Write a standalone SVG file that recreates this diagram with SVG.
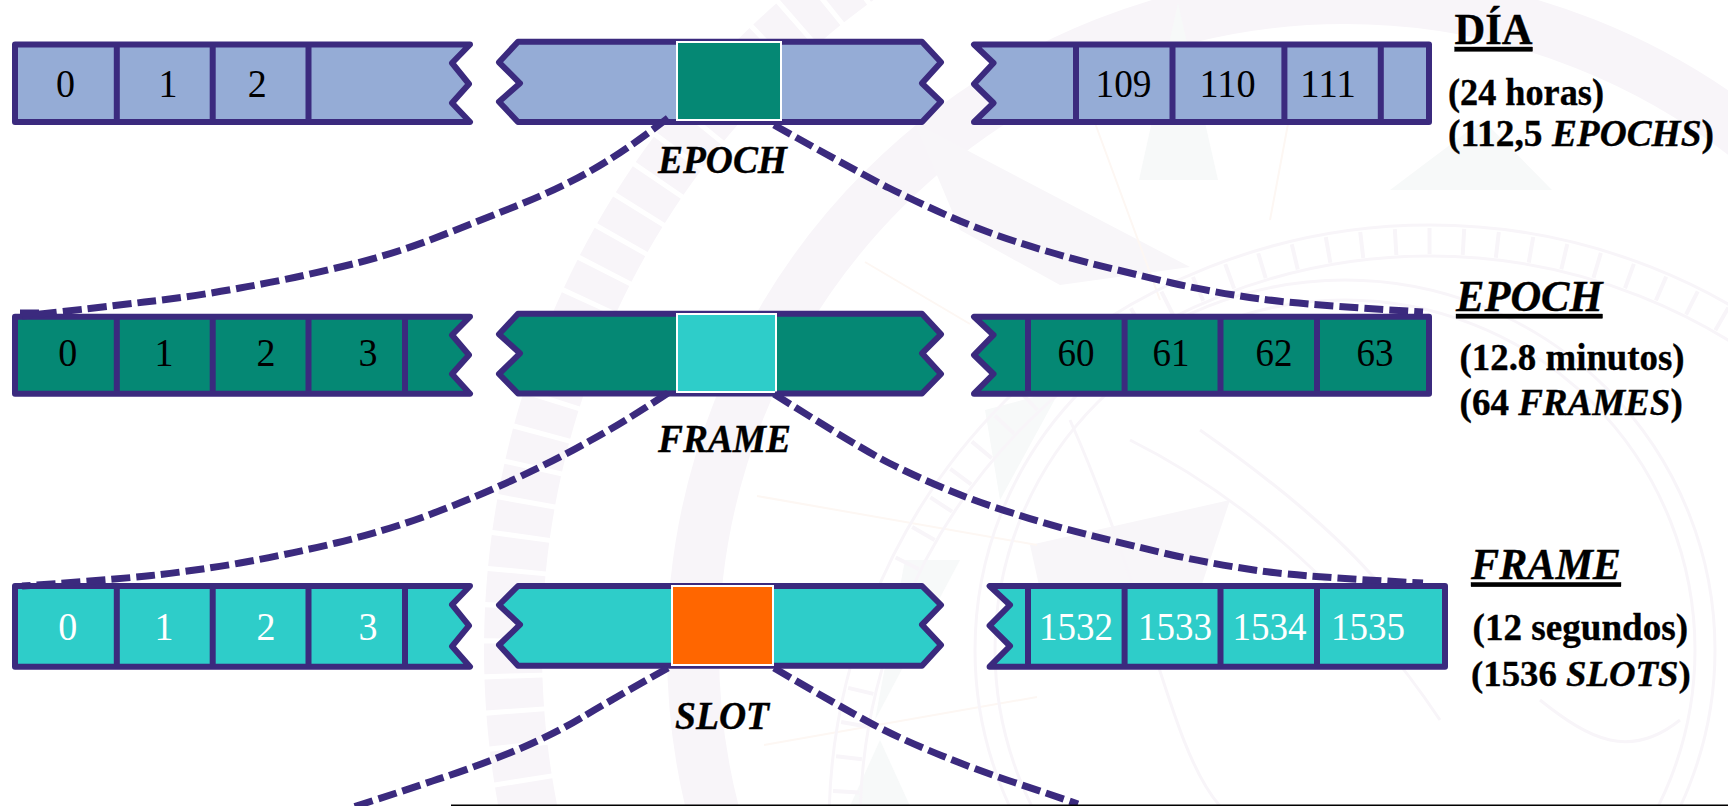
<svg xmlns="http://www.w3.org/2000/svg" width="1728" height="806" viewBox="0 0 1728 806">
<defs><style>
.o{stroke:#3b2a7e;stroke-width:6;stroke-linejoin:round;fill:none}
.d{stroke:#3b2a7e;stroke-width:7;fill:none;stroke-dasharray:19 6}
.t{font-family:"Liberation Serif","Times New Roman",serif;font-size:41px;text-anchor:middle;fill:#000}
.w{fill:#fff}
.l{font-family:"Liberation Serif","Times New Roman",serif;font-weight:bold;fill:#000;stroke:#000;stroke-width:.35}
.i{font-style:italic}
.s{stroke:#fff;stroke-width:2}
.a{fill:#95acd6}.b{fill:#058874}.c{fill:#2ecdc9}
.wl{fill:none;stroke:#f8f5f9}
.wg{fill:#f7f9f9}
.wv{fill:#f8f6f9}
.wp{fill:none;stroke:#fdf7f3;stroke-width:2}
</style></defs>
<rect width="1728" height="806" fill="#fff"/>
<g id="watermark">
<circle class="wl" cx="1345" cy="650" r="832" stroke-width="58" stroke-dasharray="30 5"/>
<circle class="wl" cx="1345" cy="650" r="652" stroke-width="52"/>
<polygon class="wv" points="915,123 1190,267 1060,285 960,230"/>
<polygon class="wg" points="1178,3 1139,180 1218,180"/>
<polygon class="wg" points="1483,120 1390,190 1552,190"/>
<polygon class="wg" points="880,740 850,806 910,806"/>
<polygon class="wg" points="905,560 875,720 960,560"/>
<polygon class="wg" points="985,410 1060,390 1000,500"/>
<polygon class="wv" points="1030,545 1230,500 1190,620 1040,590"/>
<path class="wp" d="M757 496L1037 545M865 262L970 324M764 745L1037 697M1095 123L1160 300M1300 60L1270 220"/>
<circle class="wl" cx="1430" cy="826" r="601" stroke-width="3"/>
<circle class="wl" cx="1430" cy="826" r="570" stroke-width="3"/>
<circle class="wl" cx="1430" cy="826" r="585" stroke-width="26" stroke-dasharray="4 30"/>
<circle class="wl" cx="1345" cy="650" r="370" stroke-width="3"/>
<circle class="wl" cx="1345" cy="650" r="350" stroke-width="3"/>
<path class="wl" stroke-width="3" d="M1130 440C1250 500 1360 600 1440 720M1200 430C1300 500 1380 570 1420 640M1070 420C1150 600 1170 750 1220 806M1540 700C1590 740 1630 760 1680 720"/>
</g>
<g id="row1-left"><path class="a" d="M15 44.5H470L452 63L469 84L452 103L470 122H15Z"/><path class="o" d="M15 44.5H470L452 63L469 84L452 103L470 122H15ZM116.8 44.5V122M212.7 44.5V122M308.5 44.5V122"/><text class="t" x="65.6" y="97" textLength="19" lengthAdjust="spacingAndGlyphs">0</text><text class="t" x="168" y="97" textLength="19" lengthAdjust="spacingAndGlyphs">1</text><text class="t" x="257.3" y="97" textLength="19" lengthAdjust="spacingAndGlyphs">2</text></g>
<g id="row1-mid"><path class="a" d="M518 41.7H922L941 62.3L922 83.3L941 101.7L922 122H518L499 101.7L520 83.3L499 62.3Z"/><path class="o" d="M518 41.7H922L941 62.3L922 83.3L941 101.7L922 122H518L499 101.7L520 83.3L499 62.3Z"/><rect class="b s" x="677" y="42" width="104" height="78"/></g>
<g id="row1-right"><path class="a" d="M974 44.5H1429V122H974L993.5 103L974 84L993.5 63Z"/><path class="o" d="M974 44.5H1429V122H974L993.5 103L974 84L993.5 63ZM1076 44.5V122M1172.5 44.5V122M1284.4 44.5V122M1380.8 44.5V122"/><text class="t" x="1123.5" y="97" textLength="56" lengthAdjust="spacingAndGlyphs">109</text><text class="t" x="1227.6" y="97" textLength="56" lengthAdjust="spacingAndGlyphs">110</text><text class="t" x="1328" y="97" textLength="56" lengthAdjust="spacingAndGlyphs">111</text></g>
<g id="row2-left"><path class="b" d="M15 316.7H470L452 335L469 355L452 374L470 393.7H15Z"/><path class="o" d="M15 316.7H470L452 335L469 355L452 374L470 393.7H15ZM116.8 316.7V393.7M212.7 316.7V393.7M308.5 316.7V393.7M405 316.7V393.7"/><text class="t" x="67.8" y="365.5" textLength="19" lengthAdjust="spacingAndGlyphs">0</text><text class="t" x="164" y="365.5" textLength="19" lengthAdjust="spacingAndGlyphs">1</text><text class="t" x="266" y="365.5" textLength="19" lengthAdjust="spacingAndGlyphs">2</text><text class="t" x="368" y="365.5" textLength="19" lengthAdjust="spacingAndGlyphs">3</text></g>
<g id="row2-mid"><path class="b" d="M518 313.8H922L941 334.3L922 353.3L941 374L922 393.5H518L499 374L520 353.3L499 334.3Z"/><path class="o" d="M518 313.8H922L941 334.3L922 353.3L941 374L922 393.5H518L499 374L520 353.3L499 334.3Z"/><rect class="c s" x="677" y="314" width="99" height="78"/></g>
<g id="row2-right"><path class="b" d="M974 316.7H1429V393.7H974L993.5 374L974 355L993.5 335Z"/><path class="o" d="M974 316.7H1429V393.7H974L993.5 374L974 355L993.5 335ZM1028 316.7V393.7M1124.6 316.7V393.7M1220.5 316.7V393.7M1317 316.7V393.7"/><text class="t" x="1076" y="365.5" textLength="37" lengthAdjust="spacingAndGlyphs">60</text><text class="t" x="1171" y="365.5" textLength="37" lengthAdjust="spacingAndGlyphs">61</text><text class="t" x="1274" y="365.5" textLength="37" lengthAdjust="spacingAndGlyphs">62</text><text class="t" x="1375" y="365.5" textLength="37" lengthAdjust="spacingAndGlyphs">63</text></g>
<g id="row3-left"><path class="c" d="M15 586H470L452 604.7L469 625.7L452 646.3L470 666.7H15Z"/><path class="o" d="M15 586H470L452 604.7L469 625.7L452 646.3L470 666.7H15ZM116.8 586V666.7M212.7 586V666.7M308.5 586V666.7M405 586V666.7"/><text class="t w" x="67.8" y="639.5" textLength="19" lengthAdjust="spacingAndGlyphs">0</text><text class="t w" x="164" y="639.5" textLength="19" lengthAdjust="spacingAndGlyphs">1</text><text class="t w" x="266" y="639.5" textLength="19" lengthAdjust="spacingAndGlyphs">2</text><text class="t w" x="368" y="639.5" textLength="19" lengthAdjust="spacingAndGlyphs">3</text></g>
<g id="row3-mid"><path class="c" d="M518 586H922L941 605L922 624.7L941 645L922 665.7H518L499 645L520 624.7L499 605Z"/><path class="o" d="M518 586H922L941 605L922 624.7L941 645L922 665.7H518L499 645L520 624.7L499 605Z"/><rect class="s" fill="#ff6600" x="672" y="586" width="101" height="79"/></g>
<g id="row3-right"><path class="c" d="M989.6 586H1445V666.7H989.6L1010 646L989.6 625.7L1010 605Z"/><path class="o" d="M989.6 586H1445V666.7H989.6L1010 646L989.6 625.7L1010 605ZM1028 586V666.7M1124.6 586V666.7M1220.5 586V666.7M1317 586V666.7"/><text class="t w" x="1076" y="639.5" textLength="74" lengthAdjust="spacingAndGlyphs">1532</text><text class="t w" x="1175" y="639.5" textLength="74" lengthAdjust="spacingAndGlyphs">1533</text><text class="t w" x="1269.5" y="639.5" textLength="74" lengthAdjust="spacingAndGlyphs">1534</text><text class="t w" x="1368" y="639.5" textLength="74" lengthAdjust="spacingAndGlyphs">1535</text></g>
<g id="connectors">
<path class="d" d="M668 118Q622.6 153 589.5 171.5Q556.5 190 515 206.5Q474 223 430 240Q385.7 256.7 336 268Q286.5 280 240 288Q193 296.7 144.5 302Q96 308 22 316"/>
<path class="d" d="M20 313H40" stroke-dasharray="none"/>
<path class="d" d="M774 125Q859.5 173 889 188Q919 203 949.5 216.5Q980 230 1015.5 241.5Q1051 253 1089.5 263Q1128 272.7 1172 283Q1216.6 293 1261 299Q1305 305 1423 312"/>
<path class="d" d="M668 393Q622.6 423 589.5 441Q556.5 459.7 515 479Q474 498 430 514.5Q385.7 531 336 543Q286.5 554.7 240 563Q193 571 151.5 575.5Q110 580 22 586"/>
<path class="d" d="M774 394Q859.5 448 889 463Q919 478 949.5 490.5Q980 503 1015.5 514Q1051 525.7 1089.5 535Q1128 544.7 1172 555Q1216.6 564.7 1261 571Q1305 577 1423 583"/>
<path class="d" d="M668 668Q611.6 699.7 581 718Q551 736 509.5 753Q468 769.7 432.5 781Q397 793 350 808"/>
<path class="d" d="M774 668Q859.5 718 884 730Q908 742 942.5 756Q977 770 1014.5 782.5Q1052 795 1078 804"/>
</g>
<g id="labels">
<text class="l i" x="722.5" y="173" font-size="39" text-anchor="middle" textLength="129" lengthAdjust="spacingAndGlyphs">EPOCH</text>
<text class="l i" x="724.5" y="452.3" font-size="39" text-anchor="middle" textLength="133" lengthAdjust="spacingAndGlyphs">FRAME</text>
<text class="l i" x="722" y="729" font-size="39" text-anchor="middle" textLength="94" lengthAdjust="spacingAndGlyphs">SLOT</text>
<text class="l" x="1454.6" y="44" font-size="44" text-decoration="underline" textLength="78" lengthAdjust="spacingAndGlyphs">DÍA</text>
<text class="l" x="1448" y="105" font-size="38" textLength="156" lengthAdjust="spacingAndGlyphs">(24 horas)</text>
<text class="l" x="1448" y="145.7" font-size="37.4">(112,5 <tspan class="i">EPOCHS</tspan>)</text>
<text class="l i" x="1456" y="311" font-size="44" text-decoration="underline" textLength="146.6" lengthAdjust="spacingAndGlyphs">EPOCH</text>
<text class="l" x="1459.6" y="370" font-size="38" textLength="225" lengthAdjust="spacingAndGlyphs">(12.8 minutos)</text>
<text class="l" x="1459.6" y="414.5" font-size="37">(64 <tspan class="i">FRAMES</tspan>)</text>
<text class="l i" x="1471" y="579.4" font-size="44" text-decoration="underline" textLength="150" lengthAdjust="spacingAndGlyphs">FRAME</text>
<text class="l" x="1472.6" y="640" font-size="38" textLength="215.4" lengthAdjust="spacingAndGlyphs">(12 segundos)</text>
<text class="l" x="1471" y="686" font-size="36.8">(1536 <tspan class="i">SLOTS</tspan>)</text>
</g>
<rect id="rule" x="451" y="804.5" width="1277" height="1.5" fill="#000"/>
</svg>
